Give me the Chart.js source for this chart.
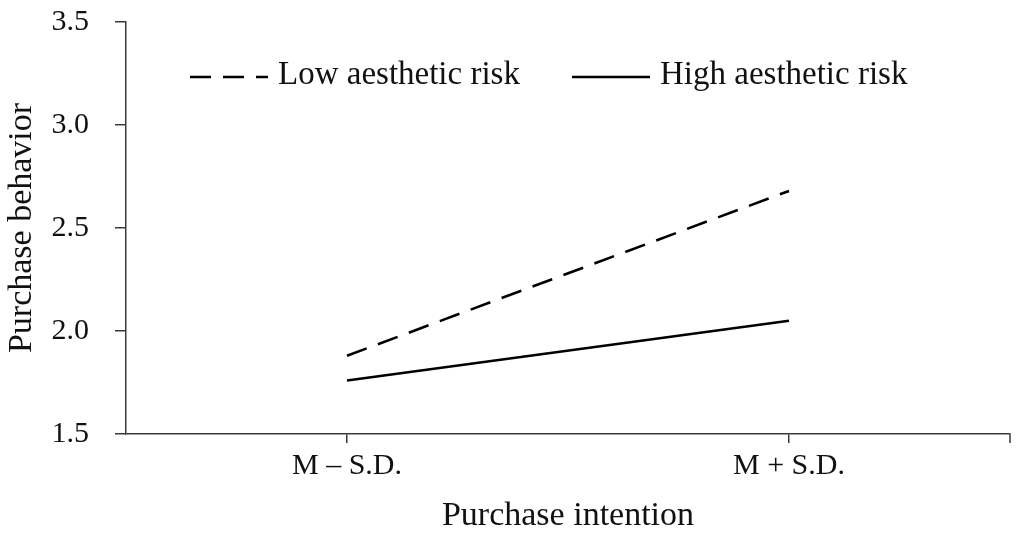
<!DOCTYPE html>
<html lang="en">
<head>
    <meta charset="UTF-8">
    <title>Purchase behavior</title>
    <style>
        html, body { margin: 0; padding: 0; background: #fff; }
        #wrap { width: 1019px; height: 536px; }
    </style>
</head>
<body>
    <div id="wrap">
        <canvas id="myChart"></canvas>
    </div>
    <script src="https://cdn.jsdelivr.net/npm/chart.js"></script>
    <script>
        // values
        let categories = ['M \u2013 S.D.', 'M + S.D.'];
        let lowRisk = [1.88, 2.68];
        let highRisk = [1.76, 2.05];
        let seriesNames = ['Low aesthetic risk', 'High aesthetic risk'];
        let yTicks = [1.5, 2.0, 2.5, 3.0, 3.5];

        let serif = "'Palatino Linotype', 'Book Antiqua', Palatino, 'Liberation Serif', serif";
        let axisColor = '#3a3a3a';
        let dash = [21, 12];

        // legend sits inside the plot, like the original
        let legendInside = {
            id: 'legendInside',
            afterDraw(chart) {
                let ctx = chart.ctx;
                let spots = [190, 572];
                ctx.save();
                ctx.font = '33px ' + serif;
                ctx.fillStyle = '#111';
                ctx.textBaseline = 'middle';
                chart.data.datasets.forEach((ds, i) => {
                    let x = spots[i], y = 77;
                    ctx.beginPath();
                    ctx.setLineDash(ds.borderDash || []);
                    ctx.lineWidth = ds.borderWidth;
                    ctx.strokeStyle = ds.borderColor;
                    ctx.moveTo(x, y);
                    ctx.lineTo(x + 78, y);
                    ctx.stroke();
                    ctx.setLineDash([]);
                    ctx.fillText(ds.label, x + 88, y - 2);
                });
                ctx.restore();
            }
        };

        // small tick at the right end of the x axis
        let endTick = {
            id: 'endTick',
            afterDraw(chart) {
                let ctx = chart.ctx;
                let a = chart.chartArea;
                ctx.save();
                ctx.strokeStyle = axisColor;
                ctx.lineWidth = 1.5;
                ctx.beginPath();
                ctx.moveTo(a.right, a.bottom);
                ctx.lineTo(a.right, a.bottom + 9);
                ctx.stroke();
                ctx.restore();
            }
        };

        let ctx = document.getElementById('myChart');
        let myChart = new Chart(ctx, {
            type: 'line',
            data: {
                labels: categories,
                datasets: [{
                    label: seriesNames[0],
                    data: lowRisk,
                    borderColor: '#000',
                    borderWidth: 2.6,
                    borderDash: dash,
                    pointRadius: 0,
                    fill: false,
                    tension: 0
                }, {
                    label: seriesNames[1],
                    data: highRisk,
                    borderColor: '#000',
                    borderWidth: 2.6,
                    pointRadius: 0,
                    fill: false,
                    tension: 0
                }]
            },
            options: {
                responsive: true,
                maintainAspectRatio: false,
                animation: false,
                layout: {
                    padding: { top: 22, right: 9, left: 0, bottom: 0 }
                },
                plugins: {
                    legend: { display: false },
                    tooltip: { enabled: false }
                },
                scales: {
                    x: {
                        offset: true,
                        afterFit: s => {
                            s.height = 102;
                            s.paddingLeft = 0;
                            s.paddingRight = 0;
                        },
                        grid: {
                            offset: false,
                            drawOnChartArea: false,
                            color: axisColor,
                            lineWidth: 1.5,
                            tickLength: 9
                        },
                        border: { display: true, color: axisColor, width: 1.5 },
                        ticks: {
                            color: '#111',
                            padding: 5,
                            font: { family: serif, size: 30 }
                        },
                        title: {
                            display: true,
                            text: 'Purchase intention',
                            color: '#111',
                            padding: { top: 0, bottom: 0 },
                            font: { family: serif, size: 34 }
                        }
                    },
                    y: {
                        min: 1.5,
                        max: 3.5,
                        afterFit: s => {
                            s.width = 126;
                            s.paddingTop = 0;
                            s.paddingBottom = 0;
                        },
                        afterBuildTicks: s => { s.ticks = yTicks.map(v => ({ value: v })); },
                        grid: {
                            drawOnChartArea: false,
                            color: axisColor,
                            lineWidth: 1.5,
                            tickLength: 11
                        },
                        border: { display: true, color: axisColor, width: 1.5 },
                        ticks: {
                            color: '#111',
                            padding: 26,
                            font: { family: serif, size: 30 },
                            callback: v => v.toFixed(1)
                        },
                        title: {
                            display: true,
                            text: 'Purchase behavior',
                            color: '#111',
                            padding: { top: 2, bottom: 0 },
                            font: { family: serif, size: 34 }
                        }
                    }
                }
            },
            plugins: [legendInside, endTick]
        });
    </script>
</body>
</html>
